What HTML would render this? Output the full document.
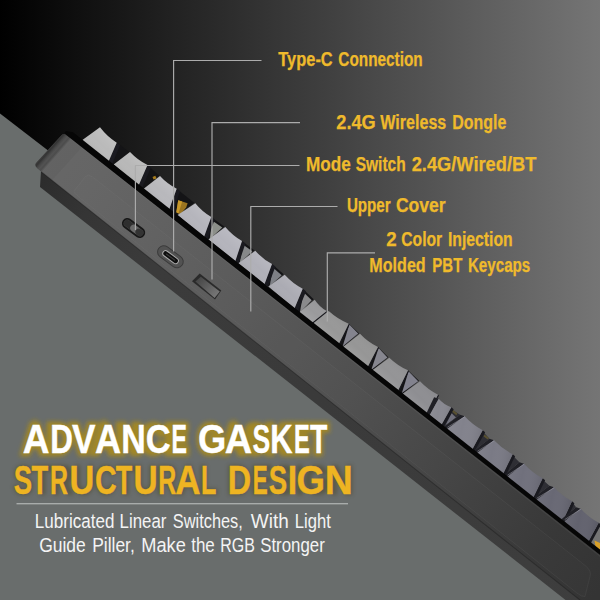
<!DOCTYPE html>
<html lang="en"><head><meta charset="utf-8"><title>Advance Gasket Structural Design</title>
<style>
html,body{margin:0;padding:0;background:#000;}
body{width:600px;height:600px;overflow:hidden;}
svg{display:block;}
text{font-family:"Liberation Sans",sans-serif;}
.lab{font-weight:bold;font-size:18px;fill:#e3ae2e;}
.sub{font-size:17px;fill:#f2f2f2;}
.h1{font-weight:bold;font-size:32px;}
</style></head><body>
<svg width="600" height="600" viewBox="0 0 600 600">
<defs>
<linearGradient id="bg" gradientUnits="userSpaceOnUse" x1="0" y1="0" x2="600" y2="0">
<stop offset="0" stop-color="#000"/><stop offset="1" stop-color="#757575"/>
</linearGradient>
<linearGradient id="floor" gradientUnits="userSpaceOnUse" x1="0" y1="600" x2="300" y2="225">
<stop offset="0" stop-color="#696d6c"/><stop offset="1" stop-color="#696d6c"/>
</linearGradient>
<linearGradient id="side" gradientUnits="userSpaceOnUse" x1="40" y1="150" x2="600" y2="590">
<stop offset="0" stop-color="#676767"/><stop offset="0.09" stop-color="#656565"/><stop offset="0.2" stop-color="#616161"/><stop offset="0.38" stop-color="#595959"/><stop offset="0.56" stop-color="#4f4f4f"/><stop offset="0.74" stop-color="#434343"/><stop offset="0.9" stop-color="#383838"/><stop offset="1" stop-color="#343434"/>
</linearGradient>
<linearGradient id="low" gradientUnits="userSpaceOnUse" x1="40" y1="180" x2="600" y2="620">
<stop offset="0" stop-color="#2c2c2c"/><stop offset="0.08" stop-color="#353535"/><stop offset="0.2" stop-color="#3b3b3b"/><stop offset="0.5" stop-color="#3a3a3a"/><stop offset="1" stop-color="#3e3e3e"/>
</linearGradient>
<linearGradient id="endg" gradientUnits="userSpaceOnUse" x1="49.75" y1="148.4" x2="57.2" y2="155.0">
<stop offset="0" stop-color="#000" stop-opacity="0.42"/><stop offset="0.12" stop-color="#000" stop-opacity="0.5"/><stop offset="0.36" stop-color="#000" stop-opacity="0.3"/><stop offset="0.56" stop-color="#000" stop-opacity="0.2"/><stop offset="0.76" stop-color="#000" stop-opacity="0.26"/><stop offset="1" stop-color="#000" stop-opacity="0.04"/>
</linearGradient>
<linearGradient id="slotg" gradientUnits="userSpaceOnUse" x1="199" y1="279" x2="215" y2="295">
<stop offset="0" stop-color="#484848"/><stop offset="1" stop-color="#747474"/>
</linearGradient>
<linearGradient id="kshA" gradientUnits="objectBoundingBox" x1="0.85" y1="0.1" x2="0.2" y2="0.8">
<stop offset="0" stop-color="#fff" stop-opacity="0.14"/><stop offset="0.5" stop-color="#fff" stop-opacity="0.0"/><stop offset="1" stop-color="#000" stop-opacity="0.12"/>
</linearGradient>
<linearGradient id="kshB" gradientUnits="objectBoundingBox" x1="0.1" y1="0.9" x2="0.9" y2="0.1">
<stop offset="0" stop-color="#fff" stop-opacity="0.14"/><stop offset="0.5" stop-color="#fff" stop-opacity="0"/><stop offset="1" stop-color="#000" stop-opacity="0.08"/>
</linearGradient>
<linearGradient id="kshC" gradientUnits="objectBoundingBox" x1="0" y1="0.4" x2="1" y2="0.6">
<stop offset="0" stop-color="#fff" stop-opacity="0.05"/><stop offset="0.4" stop-color="#fff" stop-opacity="0"/><stop offset="1" stop-color="#000" stop-opacity="0.10"/>
</linearGradient>
<filter id="glow" x="-10%" y="-40%" width="120%" height="180%"><feGaussianBlur stdDeviation="2.3"/></filter>
<filter id="glow2" x="-10%" y="-40%" width="120%" height="180%"><feGaussianBlur stdDeviation="2"/></filter>
</defs>
<rect width="600" height="600" fill="url(#bg)"/>

<polygon points="0,113.5 0,600 600,600 600,575.5" fill="url(#floor)"/>
<polygon points="41.0,171.0 700.0,633.6 700.0,705.7 40.0,186.9" fill="url(#low)"/>
<clipPath id="sidec"><path d="M61.3,135.4 Q64.2,131.9 68.6,135.4 L700,633.6 L700,695.4 L41.3,171.7 L37.4,168.4 Q33.6,165.2 36.4,162.4 Z"/></clipPath>
<path d="M61.3,135.4 Q64.2,131.9 68.6,135.4 L700,633.6 L700,695.4 L41.3,171.7 L37.4,168.4 Q33.6,165.2 36.4,162.4 Z" fill="url(#side)"/>
<polygon points="66,130 83,145.9 51.6,181 41.3,173 33,167 33,163" fill="url(#endg)" clip-path="url(#sidec)"/>
<path d="M74.0,191.2 L85.5,176.3 Q88.0,173.7 92.5,176.8 L586.0,566.2 Q592.0,571.9 590.0,576.3 L585.0,596.5 Q582.0,597.1 577.0,593.1 L80.0,198.0 Q73.0,191.9 74.0,191.2 Z" fill="#fff" fill-opacity="0.012" stroke="#909090" stroke-opacity="0.13" stroke-width="0.9"/>
<polygon points="70.0,136.5 700.0,633.6 700.0,635.8 70.0,138.7" fill="#fff" fill-opacity="0.05"/>
<polygon points="41.3,171.1 700.0,694.8 700.0,696.2 41.3,172.5" fill="#000" fill-opacity="0.25"/>
<g stroke-linecap="round" fill="none">
<line x1="127.3" y1="223.4" x2="139.8" y2="232.6" stroke="#181818" stroke-width="10.8"/>
<line x1="127.3" y1="223.4" x2="139.8" y2="232.6" stroke="#454545" stroke-width="7.2"/>
<line x1="127.0" y1="223.2" x2="131.5" y2="226.5" stroke="#2e2e2e" stroke-width="6.4"/>
<line x1="133.5" y1="228.0" x2="137.3" y2="230.8" stroke="#6a6a6a" stroke-width="6.6"/>
<line x1="138.6" y1="231.8" x2="140.2" y2="233.0" stroke="#333" stroke-width="6.4"/>
</g>
<g stroke-linecap="round" fill="none">
<line x1="163.8" y1="251.9" x2="177.0" y2="261.6" stroke="#3b3b3b" stroke-width="13.4"/>
<line x1="163.8" y1="251.9" x2="177.0" y2="261.6" stroke="#525252" stroke-width="11.4"/>
<line x1="165.6" y1="253.5" x2="175.6" y2="260.8" stroke="#a9a9a9" stroke-width="6.6"/>
<line x1="165.6" y1="253.5" x2="175.6" y2="260.8" stroke="#0e0e0e" stroke-width="4.6"/>
<line x1="166.6" y1="254.2" x2="174.6" y2="260.1" stroke="#3a3a3a" stroke-width="1.2"/>
</g>
<polygon points="192.0,281.2 199.7,273.5 221.3,290.6 215.0,299.4" fill="#2a2a2a"/>
<polygon points="195.4,281.6 200.8,276.8 219.8,291.4 214.6,298.0" fill="url(#slotg)"/>
<polygon points="108.5,161.8 117.2,143.2 129.0,151.5 113.7,164.5" fill="#141416"/>
<polygon points="138.5,185.8 148.0,165.5 159.0,175.5 143.1,189.2" fill="#141416"/>
<polygon points="169.3,209.2 177.2,189.2 194.3,202.8 177.6,215.1" fill="#141416"/>
<polygon points="204.0,236.9 211.8,217.5 224.3,226.5 208.4,239.5" fill="#141416"/>
<polygon points="235.4,260.9 242.5,241.5 254.3,250.2 238.4,263.2" fill="#141416"/>
<polygon points="264.6,283.9 272.5,264.5 283.7,274.2 268.4,286.5" fill="#141416"/>
<polygon points="294.5,308.5 303.2,289.2 313.7,299.2 298.5,313.0" fill="#141416"/>
<polygon points="311.7,322.9 327.2,311.5 327.7,310.5 313.1,323.6" fill="#141416"/>
<polygon points="339.1,343.5 349.2,324.2 359.0,333.2 342.4,347.5" fill="#141416"/>
<polygon points="367.8,366.8 378.5,347.5 388.3,357.2 372.4,370.2" fill="#141416"/>
<polygon points="398.4,390.1 408.5,370.8 419.0,380.8 402.4,393.9" fill="#141416"/>
<polygon points="427.8,413.8 438.5,395.2 437.7,398.2 429.7,415.1" fill="#141416"/>
<polygon points="441.7,424.4 451.6,408.1 453.5,410.7 460.1,414.8 443.8,427.1 447.1,428.9" fill="#2e2e34"/>
<polygon points="472.3,449.5 483.0,431.1 484.9,433.7 489.4,438.8 473.8,451.1 477.1,452.9" fill="#2e2e34"/>
<polygon points="503.1,474.1 513.0,455.1 514.9,457.7 519.4,462.2 503.8,475.1 507.1,476.9" fill="#2e2e34"/>
<polygon points="533.1,498.1 543.0,479.1 544.9,481.7 549.4,485.8 533.1,498.1 536.4,499.9" fill="#2e2e34"/>
<polygon points="562.5,521.8 572.3,502.1 574.2,504.7 576.1,507.2 561.1,519.4 564.4,521.2" fill="#2e2e34"/>
<polygon points="178.2,200.2 187.6,203.2 186.2,207.5 180.3,214.6 176.3,212.3" fill="#9a7420"/>
<polygon points="178.2,200.2 182.2,201.4 178.5,213.6 176.3,212.3" fill="#c8982a"/>
<polygon points="152.5,177 155.3,175.8 156.6,178.4 153.6,179.6" fill="#a67c1c"/>
<polygon points="212.1,220.6 222.3,227.6 209.7,239.3" fill="#8c8f8a"/>
<polygon points="242.8,244.6 252.3,251.3 239.7,263.0" fill="#86888a"/>
<polygon points="272.8,267.6 281.7,275.3 269.7,286.3" fill="#7e8086"/>
<polygon points="303.5,292.3 311.7,300.3 299.8,312.8" fill="#8a8a8c"/>
<polygon points="349.3,324.6 358.2,333.6 342.6,346.4" fill="#84848e"/>
<polygon points="378.6,347.9 387.5,357.6 371.3,369.7" fill="#86868f"/>
<polygon points="408.6,371.2 418.2,381.2 401.9,393.0" fill="#82828e"/>
<polygon points="438.6,395.6 436.9,398.6 431.3,416.7" fill="#7c7c88"/>
<polygon points="451.6,413.2 456,417.5 445.5,425.3" fill="#70707c"/>
<polygon points="452.5,409.5 457.5,413.5 456.3,415.2 451.8,411.6" fill="#585030"/>
<polygon points="484.5,434.5 489,438 487.8,439.6 483.6,436.4" fill="#585030"/>
<polygon points="594.5,540.5 600,543 600,550 595.5,546.5" fill="#d8a028"/>
<polygon points="116.7,142.7 120.1,145.3 111.9,164.4 108.5,161.8" fill="#1a1a20"/>
<path d="M81.7,140.5 L100.0,127.3 Q107.1,136.6 116.7,142.7 L108.5,161.8 Z" fill="#bababa"/>
<path d="M81.7,140.5 L100.0,127.3 Q107.1,136.6 116.7,142.7 L108.5,161.8 Z" fill="url(#kshA)"/>
<polygon points="147.5,165.0 150.9,167.6 141.9,188.4 138.5,185.8" fill="#1a1a20"/>
<path d="M113.7,164.5 L130.0,152.0 Q137.6,160.1 147.5,165.0 L138.5,185.8 Z" fill="#b8b8b8"/>
<path d="M113.7,164.5 L130.0,152.0 Q137.6,160.1 147.5,165.0 L138.5,185.8 Z" fill="url(#kshA)"/>
<polygon points="176.7,188.7 180.1,191.3 172.7,211.8 169.3,209.2" fill="#1a1a20"/>
<path d="M143.1,189.2 L160.0,176.0 Q167.2,183.9 176.7,188.7 L169.3,209.2 Z" fill="#b8b8bc"/>
<path d="M143.1,189.2 L160.0,176.0 Q167.2,183.9 176.7,188.7 L169.3,209.2 Z" fill="url(#kshA)"/>
<polygon points="211.3,217.0 214.7,219.6 207.4,239.5 204.0,236.9" fill="#1a1a20"/>
<path d="M177.6,215.1 L195.3,203.3 Q202.1,211.8 211.3,217.0 L204.0,236.9 Z" fill="#b5b5bc"/>
<path d="M177.6,215.1 L195.3,203.3 Q202.1,211.8 211.3,217.0 L204.0,236.9 Z" fill="url(#kshA)"/>
<polygon points="242.0,241.0 245.4,243.6 238.7,263.5 235.4,260.9" fill="#1a1a20"/>
<path d="M208.4,239.5 L225.3,227.0 Q232.5,235.6 242.0,241.0 L235.4,260.9 Z" fill="#b4b4bc"/>
<path d="M208.4,239.5 L225.3,227.0 Q232.5,235.6 242.0,241.0 L235.4,260.9 Z" fill="url(#kshA)"/>
<polygon points="272.0,264.0 275.4,266.6 268.0,286.5 264.6,283.9" fill="#1a1a20"/>
<path d="M238.4,263.2 L255.3,250.7 Q262.4,259.0 272.0,264.0 L264.6,283.9 Z" fill="#b0b0b8"/>
<path d="M238.4,263.2 L255.3,250.7 Q262.4,259.0 272.0,264.0 L264.6,283.9 Z" fill="url(#kshA)"/>
<polygon points="302.7,288.7 306.1,291.3 297.9,311.2 294.5,308.5" fill="#1a1a20"/>
<path d="M268.4,286.5 L284.7,274.7 Q292.5,283.3 302.7,288.7 L294.5,308.5 Z" fill="#ababb3"/>
<path d="M268.4,286.5 L284.7,274.7 Q292.5,283.3 302.7,288.7 L294.5,308.5 Z" fill="url(#kshA)"/>
<polygon points="326.7,311.0 327.7,311.7 312.7,323.7 311.7,322.9" fill="#1a1a20"/>
<path d="M298.5,313.0 L314.7,299.7 Q319.5,307.0 326.7,311.0 L311.7,322.9 Z" fill="#9a9a9c"/>
<path d="M298.5,313.0 L314.7,299.7 Q319.5,307.0 326.7,311.0 L311.7,322.9 Z" fill="url(#kshB)"/>
<polygon points="348.7,323.7 349.7,324.4 340.1,344.2 339.1,343.5" fill="#1a1a20"/>
<path d="M313.1,323.6 L328.7,311.0 Q337.5,319.0 348.7,323.7 L339.1,343.5 Z" fill="#989898"/>
<path d="M313.1,323.6 L328.7,311.0 Q337.5,319.0 348.7,323.7 L339.1,343.5 Z" fill="url(#kshB)"/>
<polygon points="378.0,347.0 379.0,347.7 368.7,367.5 367.8,366.8" fill="#1a1a20"/>
<path d="M342.4,347.5 L360.0,333.7 Q367.8,342.0 378.0,347.0 L367.8,366.8 Z" fill="#969696"/>
<path d="M342.4,347.5 L360.0,333.7 Q367.8,342.0 378.0,347.0 L367.8,366.8 Z" fill="url(#kshB)"/>
<polygon points="408.0,370.3 409.0,371.0 399.4,390.8 398.4,390.1" fill="#1a1a20"/>
<path d="M372.4,370.2 L389.3,357.7 Q397.4,365.6 408.0,370.3 L398.4,390.1 Z" fill="#949496"/>
<path d="M372.4,370.2 L389.3,357.7 Q397.4,365.6 408.0,370.3 L398.4,390.1 Z" fill="url(#kshB)"/>
<polygon points="438.0,394.7 439.0,395.4 428.7,414.5 427.8,413.8" fill="#1a1a20"/>
<path d="M402.4,393.9 L420.0,381.3 Q427.8,389.6 438.0,394.7 L427.8,413.8 Z" fill="#8e8e92"/>
<path d="M402.4,393.9 L420.0,381.3 Q427.8,389.6 438.0,394.7 L427.8,413.8 Z" fill="url(#kshB)"/>
<polygon points="429.7,415.1 438.7,398.7 434.1,397.2 426.4,413.3" fill="#202026"/>
<polygon points="451.3,407.3 453.7,409.2 444.1,426.3 441.7,424.4" fill="#1a1a20"/>
<path d="M429.7,415.1 L438.7,398.7 Q443.8,404.6 451.3,407.3 L441.7,424.4 Z" fill="#888890"/>
<path d="M429.7,415.1 L438.7,398.7 Q443.8,404.6 451.3,407.3 L441.7,424.4 Z" fill="url(#kshC)"/>
<polygon points="447.1,428.9 464.7,416.3 460.1,414.8 443.8,427.1" fill="#202026"/>
<polygon points="482.7,430.3 485.1,432.2 474.7,451.3 472.3,449.5" fill="#1a1a20"/>
<path d="M447.1,428.9 L464.7,416.3 Q472.5,424.9 482.7,430.3 L472.3,449.5 Z" fill="#82828c"/>
<line x1="447.4" y1="427.3" x2="464.9" y2="416.7" stroke="#a8a8b6" stroke-width="0.8" stroke-opacity="0.6"/>
<path d="M447.1,428.9 L464.7,416.3 Q472.5,424.9 482.7,430.3 L472.3,449.5 Z" fill="url(#kshC)"/>
<polygon points="477.1,452.9 494.0,440.3 489.4,438.8 473.8,451.1" fill="#202026"/>
<polygon points="512.7,454.3 515.1,456.2 505.5,476.0 503.1,474.1" fill="#1a1a20"/>
<path d="M477.1,452.9 L494.0,440.3 Q502.2,448.9 512.7,454.3 L503.1,474.1 Z" fill="#7a7a85"/>
<line x1="477.4" y1="451.3" x2="494.2" y2="440.7" stroke="#a8a8b6" stroke-width="0.8" stroke-opacity="0.6"/>
<path d="M477.1,452.9 L494.0,440.3 Q502.2,448.9 512.7,454.3 L503.1,474.1 Z" fill="url(#kshC)"/>
<polygon points="507.1,476.9 524.0,463.7 519.4,462.2 503.8,475.1" fill="#202026"/>
<polygon points="542.7,478.3 545.1,480.2 535.5,500.0 533.1,498.1" fill="#1a1a20"/>
<path d="M507.1,476.9 L524.0,463.7 Q532.1,472.6 542.7,478.3 L533.1,498.1 Z" fill="#70707c"/>
<line x1="507.4" y1="475.3" x2="524.2" y2="464.1" stroke="#a8a8b6" stroke-width="0.8" stroke-opacity="0.6"/>
<path d="M507.1,476.9 L524.0,463.7 Q532.1,472.6 542.7,478.3 L533.1,498.1 Z" fill="url(#kshC)"/>
<polygon points="536.4,499.9 554.0,487.3 549.4,485.8 533.1,498.1" fill="#202026"/>
<polygon points="572.0,501.3 574.4,503.2 564.9,523.7 562.5,521.8" fill="#1a1a20"/>
<path d="M536.4,499.9 L554.0,487.3 Q561.8,495.9 572.0,501.3 L562.5,521.8 Z" fill="#686874"/>
<line x1="536.7" y1="498.3" x2="554.2" y2="487.7" stroke="#a8a8b6" stroke-width="0.8" stroke-opacity="0.6"/>
<path d="M536.4,499.9 L554.0,487.3 Q561.8,495.9 572.0,501.3 L562.5,521.8 Z" fill="url(#kshC)"/>
<polygon points="564.4,521.2 580.7,508.7 576.1,507.2 561.1,519.4" fill="#202026"/>
<polygon points="598.7,522.7 601.1,524.6 590.7,543.6 588.3,541.8" fill="#1a1a20"/>
<path d="M564.4,521.2 L580.7,508.7 Q588.5,517.3 598.7,522.7 L588.3,541.8 Z" fill="#62626e"/>
<line x1="564.7" y1="519.6" x2="580.9" y2="509.1" stroke="#a8a8b6" stroke-width="0.8" stroke-opacity="0.6"/>
<path d="M564.4,521.2 L580.7,508.7 Q588.5,517.3 598.7,522.7 L588.3,541.8 Z" fill="url(#kshC)"/>
<polygon points="66.0,131.0 73.0,132.3 700.0,628.8 700.0,633.6 64.0,133.2" fill="#060606"/>

<!-- leaders -->
<g fill="none" stroke="#acacac" stroke-width="1.15">
<path d="M261.5,60.5 H173.6 V251.5"/>
<path d="M300,122.6 H212 V279.5"/>
<path d="M299.5,165.5 H135.4 V230"/>
<path d="M337.5,206.5 H250.8 V311.5"/>
<path d="M375,252.8 H327.3 V321.5"/>
</g>
<!-- labels -->
<g style="font-weight:bold;font-size:19.6px" fill="#efba2c" stroke="#efba2c" stroke-width="0.25">
<text x="278.3" y="65.6" textLength="54.4" lengthAdjust="spacingAndGlyphs">Type-C</text>
<text x="338.3" y="65.6" textLength="84.4" lengthAdjust="spacingAndGlyphs">Connection</text>
<text x="336.3" y="128.8" textLength="39.4" lengthAdjust="spacingAndGlyphs">2.4G</text>
<text x="380.3" y="128.8" textLength="66.0" lengthAdjust="spacingAndGlyphs">Wireless</text>
<text x="452.3" y="128.8" textLength="54.0" lengthAdjust="spacingAndGlyphs">Dongle</text>
<text x="305.9" y="171.0" textLength="44.8" lengthAdjust="spacingAndGlyphs">Mode</text>
<text x="355.7" y="171.0" textLength="50.0" lengthAdjust="spacingAndGlyphs">Switch</text>
<text x="411.7" y="171.0" textLength="124.6" lengthAdjust="spacingAndGlyphs">2.4G/Wired/BT</text>
<text x="346.9" y="212.4" textLength="43.8" lengthAdjust="spacingAndGlyphs">Upper</text>
<text x="395.9" y="212.4" textLength="49.8" lengthAdjust="spacingAndGlyphs">Cover</text>
<text x="386.3" y="246.3" textLength="10.4" lengthAdjust="spacingAndGlyphs">2</text>
<text x="401.3" y="246.3" textLength="40.9" lengthAdjust="spacingAndGlyphs">Color</text>
<text x="447.9" y="246.3" textLength="64.8" lengthAdjust="spacingAndGlyphs">Injection</text>
<text x="369.3" y="272.0" textLength="56.4" lengthAdjust="spacingAndGlyphs">Molded</text>
<text x="432.3" y="272.0" textLength="30.0" lengthAdjust="spacingAndGlyphs">PBT</text>
<text x="467.9" y="272.0" textLength="62.4" lengthAdjust="spacingAndGlyphs">Keycaps</text>
</g>
<!-- headline -->
<g style="font-weight:bold;font-size:40.7px">
<g filter="url(#glow)" opacity="0.9" fill="#a88a1c" stroke="#a88a1c" stroke-width="6.5">
<text x="22.6" y="452.9" textLength="165.4" lengthAdjust="spacingAndGlyphs">ADVANCE</text>
<text x="198.0" y="452.9" textLength="129.6" lengthAdjust="spacingAndGlyphs">GASKET</text>
</g>
<text y="452.9" fill="#fff" stroke="#fff" stroke-width="0.4"><tspan x="22.66" textLength="26.76" lengthAdjust="spacingAndGlyphs">A</tspan><tspan x="50.31" textLength="22.70" lengthAdjust="spacingAndGlyphs">D</tspan><tspan x="72.00" textLength="23.49" lengthAdjust="spacingAndGlyphs">V</tspan><tspan x="94.88" textLength="26.13" lengthAdjust="spacingAndGlyphs">A</tspan><tspan x="121.16" textLength="24.55" lengthAdjust="spacingAndGlyphs">N</tspan><tspan x="145.82" textLength="24.95" lengthAdjust="spacingAndGlyphs">C</tspan><tspan x="171.61" textLength="15.45" lengthAdjust="spacingAndGlyphs">E</tspan></text>
<text y="452.9" fill="#fff" stroke="#fff" stroke-width="0.4"><tspan x="198.05" textLength="28.25" lengthAdjust="spacingAndGlyphs">G</tspan><tspan x="224.64" textLength="27.40" lengthAdjust="spacingAndGlyphs">A</tspan><tspan x="252.47" textLength="17.71" lengthAdjust="spacingAndGlyphs">S</tspan><tspan x="270.35" textLength="22.32" lengthAdjust="spacingAndGlyphs">K</tspan><tspan x="294.08" textLength="15.80" lengthAdjust="spacingAndGlyphs">E</tspan><tspan x="309.92" textLength="17.31" lengthAdjust="spacingAndGlyphs">T</tspan></text>
<g filter="url(#glow2)" opacity="0.35" fill="#3a3000" stroke="#3a3000" stroke-width="2">
<text x="13.6" y="494.1" textLength="204.0" lengthAdjust="spacingAndGlyphs">STRUCTURAL</text>
<text x="227.2" y="494.1" textLength="126.4" lengthAdjust="spacingAndGlyphs">DESIGN</text>
</g>
<text y="494.1" fill="#eeb422" stroke="#eeb422" stroke-width="0.4"><tspan x="13.85" textLength="18.37" lengthAdjust="spacingAndGlyphs">S</tspan><tspan x="31.53" textLength="16.70" lengthAdjust="spacingAndGlyphs">T</tspan><tspan x="50.10" textLength="18.00" lengthAdjust="spacingAndGlyphs">R</tspan><tspan x="69.53" textLength="24.86" lengthAdjust="spacingAndGlyphs">U</tspan><tspan x="95.00" textLength="21.67" lengthAdjust="spacingAndGlyphs">C</tspan><tspan x="115.73" textLength="16.49" lengthAdjust="spacingAndGlyphs">T</tspan><tspan x="133.59" textLength="24.15" lengthAdjust="spacingAndGlyphs">U</tspan><tspan x="158.30" textLength="18.00" lengthAdjust="spacingAndGlyphs">R</tspan><tspan x="175.30" textLength="25.28" lengthAdjust="spacingAndGlyphs">A</tspan><tspan x="200.99" textLength="15.33" lengthAdjust="spacingAndGlyphs">L</tspan></text>
<text y="494.1" fill="#eeb422" stroke="#eeb422" stroke-width="0.4"><tspan x="227.66" textLength="23.38" lengthAdjust="spacingAndGlyphs">D</tspan><tspan x="252.65" textLength="14.98" lengthAdjust="spacingAndGlyphs">E</tspan><tspan x="268.65" textLength="18.37" lengthAdjust="spacingAndGlyphs">S</tspan><tspan x="287.78" textLength="9.38" lengthAdjust="spacingAndGlyphs">I</tspan><tspan x="296.44" textLength="28.48" lengthAdjust="spacingAndGlyphs">G</tspan><tspan x="324.86" textLength="28.16" lengthAdjust="spacingAndGlyphs">N</tspan></text>
</g>
<rect x="16.5" y="503.2" width="331.5" height="1.1" fill="#b9bcbb"/>
<g style="font-size:19.9px" fill="#f4f4f4">
<text x="34.8" y="527.6" textLength="79.6" lengthAdjust="spacingAndGlyphs">Lubricated</text>
<text x="119.6" y="527.6" textLength="46.8" lengthAdjust="spacingAndGlyphs">Linear</text>
<text x="172.8" y="527.6" textLength="70.0" lengthAdjust="spacingAndGlyphs">Switches,</text>
<text x="250.8" y="527.6" textLength="38.0" lengthAdjust="spacingAndGlyphs">With</text>
<text x="294.8" y="527.6" textLength="36.0" lengthAdjust="spacingAndGlyphs">Light</text>
<text x="39.2" y="552.4" textLength="46.6" lengthAdjust="spacingAndGlyphs">Guide</text>
<text x="92.2" y="552.4" textLength="42.6" lengthAdjust="spacingAndGlyphs">Piller,</text>
<text x="141.2" y="552.4" textLength="44.6" lengthAdjust="spacingAndGlyphs">Make</text>
<text x="191.2" y="552.4" textLength="23.6" lengthAdjust="spacingAndGlyphs">the</text>
<text x="220.2" y="552.4" textLength="34.6" lengthAdjust="spacingAndGlyphs">RGB</text>
<text x="260.2" y="552.4" textLength="64.6" lengthAdjust="spacingAndGlyphs">Stronger</text>
</g>
</svg>
</body></html>
